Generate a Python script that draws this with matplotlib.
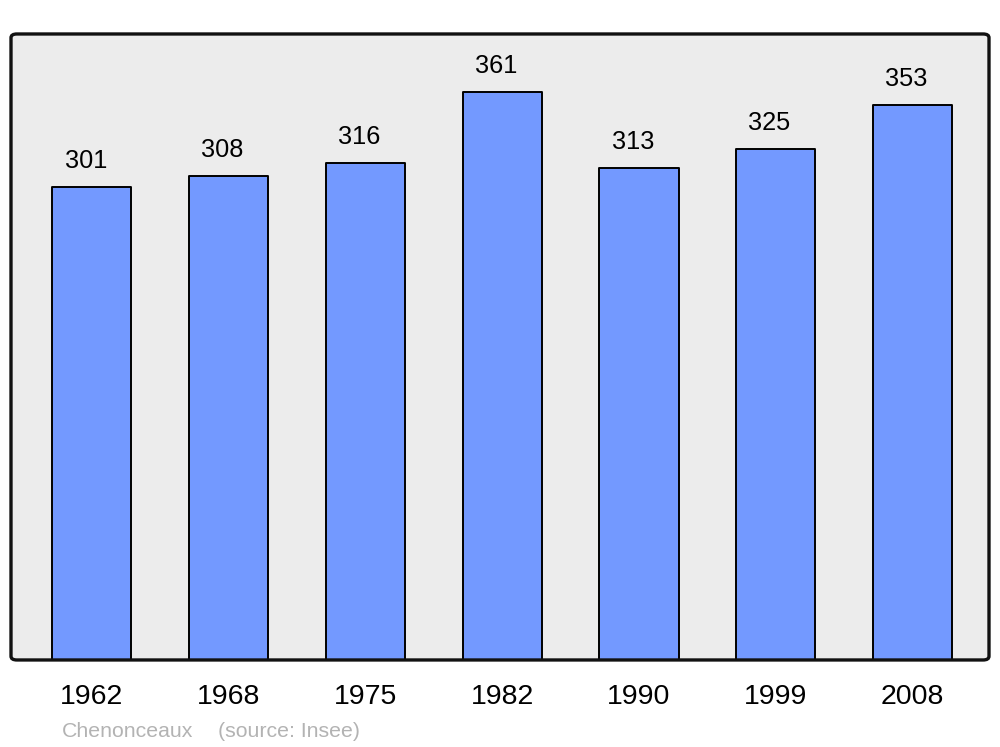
import matplotlib
matplotlib.use("Agg")
import matplotlib.pyplot as plt
from matplotlib.patches import FancyBboxPatch

plt.rcParams['font.family'] = ['Liberation Sans', 'DejaVu Sans']

years = ['1962', '1968', '1975', '1982', '1990', '1999', '2008']
population = [301, 308, 316, 361, 313, 325, 353]

BG = '#ececec'
BAR = '#7399ff'

fig = plt.figure(figsize=(10, 7.47), dpi=100)
ax = fig.add_axes([0.011, 0.1165, 0.978, 0.838])
ax.set_facecolor(BG)

x = range(len(years))
bars = ax.bar(x, population, width=0.578, color=BAR, edgecolor='black',
              linewidth=1.4, zorder=3)
for b in bars:
    b.set_joinstyle('round')

for xi, v in zip(x, population):
    ax.annotate(str(v), (xi, v), xytext=(-4.5, 13.5), textcoords='offset points',
                ha='center', va='baseline', fontsize=18.3, color='black')

ax.set_xlim(-0.592, 6.559)
ax.set_ylim(0, 398)
ax.set_yticks([])
ax.set_xticks(list(x))
ax.set_xticklabels(years, fontsize=20.5)
ax.tick_params(axis='x', length=0, pad=17.5)

# rounded frame instead of spines
for s in ax.spines.values():
    s.set_visible(False)
frame = FancyBboxPatch((0, 0), 1, 1, boxstyle='round,pad=0,rounding_size=0.006',
                       transform=ax.transAxes, facecolor='none', edgecolor='#111111',
                       linewidth=2.4, clip_on=False, zorder=5)
ax.add_patch(frame)

fig.text(0.0617, 0.0134, 'Chenonceaux', fontsize=15.3, color='#b3b3b3', va='baseline')
fig.text(0.218, 0.0134, '(source: Insee)', fontsize=15.3, color='#b3b3b3', va='baseline')

fig.savefig('out.png', dpi=100)
